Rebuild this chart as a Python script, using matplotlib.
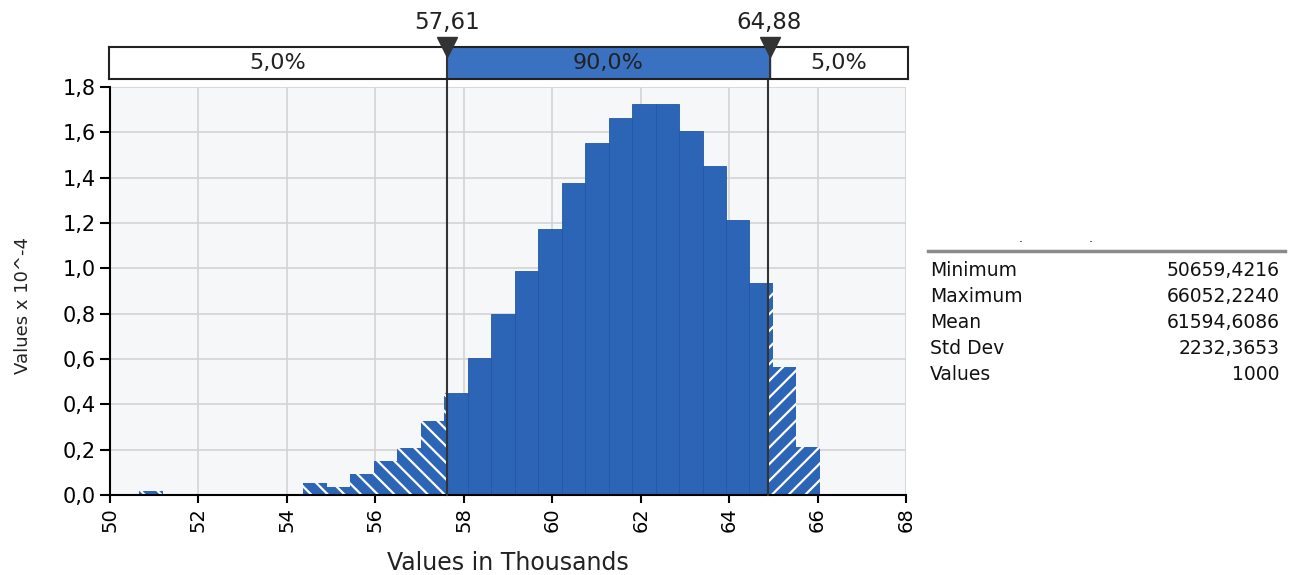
import numpy as np
import matplotlib
matplotlib.use("Agg")
import matplotlib.pyplot as plt
from matplotlib.ticker import FuncFormatter
from matplotlib.transforms import blended_transform_factory

# Histogram data (density, Values x 10^-4), 29 equal bins from min to max
heights = [0.019, 0.0, 0.0, 0.0, 0.0, 0.0, 0.0, 0.055, 0.037, 0.093, 0.151, 0.209, 0.326,
           0.451, 0.603, 0.797, 0.989, 1.173, 1.375, 1.551, 1.664, 1.723, 1.723, 1.607,
           1.451, 1.213, 0.934, 0.566, 0.210]
x_min = 50.6594   # thousands
x_max = 66.0522

# 5% / 95% markers
p_low = 57.61
p_high = 64.88
band_labels = ["5,0%", "90,0%", "5,0%"]

# Statistics table
stat_names = ["Minimum", "Maximum", "Mean", "Std Dev", "Values"]
stat_values = ["50659,4216", "66052,2240", "61594,6086", "2232,3653", "1000"]

x_ticks = np.arange(50, 69, 2)
y_ticks = np.arange(0, 1.81, 0.2)

blue = "#2c64b6"
band_blue = "#3b71c1"
dark = "#333333"

plt.rcParams["font.family"] = "DejaVu Sans"
plt.rcParams["hatch.linewidth"] = 1.6

W, H = 1292, 575
fig = plt.figure(figsize=(W / 100, H / 100), dpi=100)

# main histogram axes
ax = fig.add_axes([110 / W, 1 - 495 / H, 796 / W, 408 / H])
ax.set_facecolor("#f5f7f8")

n = len(heights)
h = np.array(heights)
w = (x_max - x_min) / n
a = x_min + np.arange(n) * w
b = a + w

left_w = np.clip(np.minimum(b, p_low) - a, 0, None)
mid_start = np.maximum(a, p_low)
mid_w = np.clip(np.minimum(b, p_high) - mid_start, 0, None)
right_start = np.maximum(a, p_high)
right_w = np.clip(b - right_start, 0, None)

ax.bar(a, h, width=left_w, align="edge", color=blue, edgecolor="white",
       linewidth=0, hatch="\\\\", zorder=2)
ax.bar(mid_start, h, width=mid_w, align="edge", color=blue, edgecolor="#2457a5",
       linewidth=0.6, zorder=2)
ax.bar(right_start, h, width=right_w, align="edge", color=blue, edgecolor="white",
       linewidth=0, hatch="//", zorder=2)

for p in (p_low, p_high):
    ax.axvline(p, ymin=0, ymax=1.02, color=dark, lw=1.5, clip_on=False, zorder=3)

ax.set_xlim(50, 68)
ax.set_ylim(0, 1.8)
ax.set_xticks(x_ticks)
ax.set_yticks(y_ticks)
ax.yaxis.set_major_formatter(FuncFormatter(lambda v, pos: f"{v:.1f}".replace(".", ",")))
ax.tick_params(axis="x", labelrotation=90, labelsize=14, length=6, width=1.5, pad=3)
ax.tick_params(axis="y", labelsize=15, length=7, width=1.5, pad=3)
ax.grid(True, color="#d4d4d4", lw=1.2)
ax.set_axisbelow(True)
for s in ("top", "right"):
    ax.spines[s].set_visible(False)
for s in ("left", "bottom"):
    ax.spines[s].set_linewidth(1.5)
ax.set_xlabel("Values in Thousands", fontsize=17, va="center", color="#222222")
ax.xaxis.set_label_coords(0.5, -(563 - 495) / 408)
ax.set_ylabel("Values x 10^-4", fontsize=13, va="center", color="#222222")
ax.yaxis.set_label_coords(-(110 - 23) / 796, (495 - 305) / 408)

# percentile band above the chart
band = fig.add_axes([109 / W, 1 - 79 / H, 799 / W, 32 / H])
band.set_xlim(50, 68)
band.set_ylim(0, 1)
band.axvspan(p_low, p_high, color=band_blue, zorder=1)
for p in (p_low, p_high):
    band.axvline(p, color=dark, lw=1.5, zorder=2)
band.set_xticks([])
band.set_yticks([])
for s in band.spines.values():
    s.set_linewidth(1.5)
    s.set_color("#222222")
centers = [(50 + p_low) / 2, (p_low + p_high) / 2, (p_high + 68) / 2]
for c, lab in zip(centers, band_labels):
    band.text(c, 0.5, lab, ha="center", va="center", fontsize=16, color="#222222")
tr = blended_transform_factory(band.transData, band.transAxes)
for p in (p_low, p_high):
    band.plot([p], [1.0], marker="v", markersize=14, color=dark, transform=tr,
              clip_on=False, zorder=5)
    band.text(p, 1.55, f"{p:.2f}".replace(".", ","), transform=tr, ha="center",
              va="baseline", fontsize=16.5, color="#222222")

# statistics table on the right
fig.add_artist(plt.Line2D([928 / W, 1285 / W], [1 - 251 / H, 1 - 251 / H],
                          color="#8a8a8a", lw=2.5))
fig.text(1021 / W, 1 - 238 / H, ".", fontsize=9, ha="center", va="center")
fig.text(1091 / W, 1 - 238 / H, ".", fontsize=9, ha="center", va="center")
for i, (name, val) in enumerate(zip(stat_names, stat_values)):
    y = 1 - (270 + 26 * i) / H
    fig.text(930 / W, y, name, fontsize=13.5, ha="left", va="center", color="#111111")
    fig.text(1280 / W, y, val, fontsize=13.5, ha="right", va="center", color="#111111")

fig.savefig("out.png", dpi=100)
